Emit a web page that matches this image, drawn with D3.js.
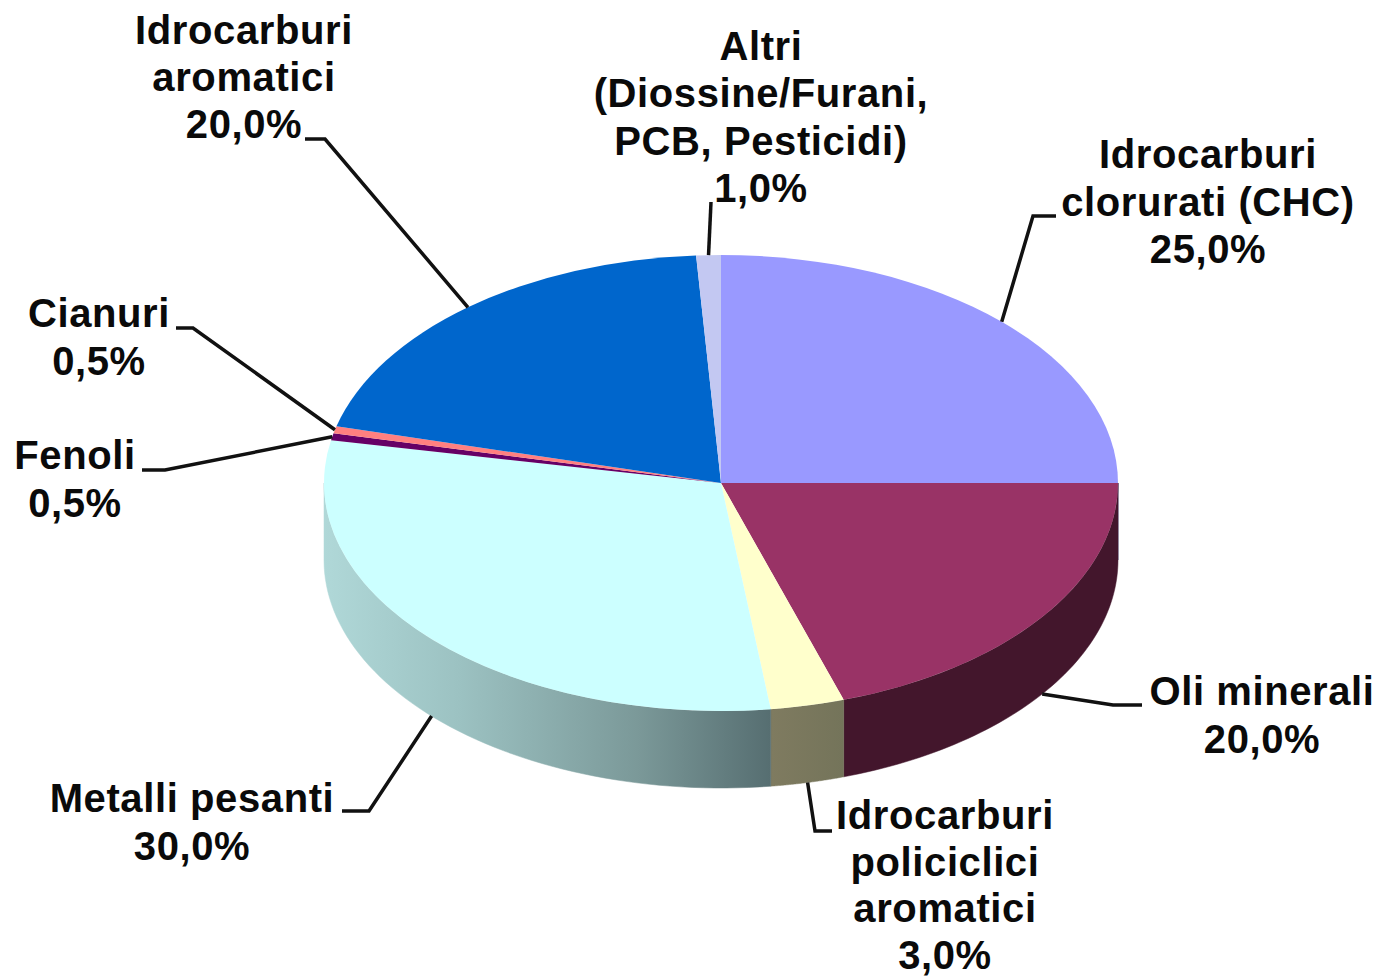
<!DOCTYPE html>
<html>
<head>
<meta charset="utf-8">
<script src="https://cdn.jsdelivr.net/npm/d3@7"></script>
<style>
	html, body { margin: 0; background: #fff; }
	svg { display: block; }
	text { font-family: "Liberation Sans", Arial, sans-serif; font-weight: bold; font-size: 40px; letter-spacing: 0.6px; fill: #0a0a0a; text-anchor: middle; }
</style>
</head>
<body>
<div id="chart-area"></div>
<script>
// chart data
const categories = [
	"Idrocarburi clorurati (CHC)",
	"Oli minerali",
	"Idrocarburi policiclici aromatici",
	"Metalli pesanti",
	"Fenoli",
	"Cianuri",
	"Idrocarburi aromatici",
	"Altri (Diossine/Furani, PCB, Pesticidi)"
];
const values = [25, 20, 3, 30, 0.5, 0.5, 20, 1];
const valueLabels = ["25,0%", "20,0%", "3,0%", "30,0%", "0,5%", "0,5%", "20,0%", "1,0%"];

// how each label is broken into lines
const labelLines = [
	["Idrocarburi", "clorurati (CHC)"],
	["Oli minerali"],
	["Idrocarburi", "policiclici", "aromatici"],
	["Metalli pesanti"],
	["Fenoli"],
	["Cianuri"],
	["Idrocarburi", "aromatici"],
	["Altri", "(Diossine/Furani,", "PCB, Pesticidi)"]
];

// colors
const topColors = ["#9999ff", "#993366", "#ffffcc", "#ccffff", "#660066", "#ff8080", "#0066cc", "#c3c8f2"];
const sideColors = ["#4d4d80", "#43162c", "url(#side-ipa)", "url(#side-metalli)", "#330033", "#804040", "#003366", "#60607f"];

// label placement: center x, first baseline, line spacing, and the leader's bend + end
const labelLayout = [
	{x: 1208, y: 168, dy: 47.5, line: [[1033, 216], [1056, 216]]},
	{x: 1262, y: 705, dy: 48, line: [[1113, 705], [1142, 705]]},
	{x: 945, y: 829, dy: 46.7, line: [[815, 831], [832, 831]]},
	{x: 192, y: 812, dy: 48, line: [[369, 811], [342, 811]]},
	{x: 75, y: 469, dy: 48, line: [[165, 470], [142, 470]]},
	{x: 99, y: 327, dy: 48, line: [[193, 328], [176, 328]]},
	{x: 244, y: 44, dy: 47, line: [[325, 139], [305, 139]]},
	{x: 761, y: 60, dy: 47.3, line: [[711, 202]]}
];

const width = 1381;
const height = 976;
const cx = 721;
const cy = 483;
const rx = 397;
const ry = 228;
const depth = 77;

let svg = d3.select("#chart-area").append("svg")
	.attr("width", width)
	.attr("height", height);

// gradients for the shaded side faces
let defs = svg.append("defs");
defs.append("linearGradient")
	.attr("id", "side-metalli")
	.attr("gradientUnits", "userSpaceOnUse")
	.attr("x1", cx - rx).attr("x2", 771).attr("y1", 0).attr("y2", 0)
	.selectAll("stop")
	.data([[0, "#b0d8d8"], [0.3, "#9cc2c2"], [0.7, "#7b9999"], [1, "#566e71"]])
	.join("stop")
	.attr("offset", d => d[0])
	.attr("stop-color", d => d[1]);
defs.append("linearGradient")
	.attr("id", "side-ipa")
	.attr("gradientUnits", "userSpaceOnUse")
	.attr("x1", 771).attr("x2", 844).attr("y1", 0).attr("y2", 0)
	.selectAll("stop")
	.data([[0, "#7f7b60"], [1, "#74745a"]])
	.join("stop")
	.attr("offset", d => d[0])
	.attr("stop-color", d => d[1]);

// pie layout, clockwise from 12 o'clock in the given order
let pie = d3.pie().sort(null).value(d => d);
let slices = pie(values);

// point on the top ellipse for a pie angle
const px = a => cx + rx * Math.sin(a);
const py = a => cy - ry * Math.cos(a);

// side walls, only the front half of the pie is visible
let sideLine = d3.line().x(d => d[0]).y(d => d[1]);
const sidePath = d => {
	let a0 = Math.max(d.startAngle, Math.PI / 2);
	let a1 = Math.min(d.endAngle, Math.PI * 1.5);
	if (a1 <= a0) return null;
	let angles = d3.range(0, 61).map(i => a0 + (a1 - a0) * i / 60);
	let upper = angles.map(a => [px(a), py(a)]);
	let lower = angles.slice().reverse().map(a => [px(a), py(a) + depth]);
	return sideLine(upper.concat(lower)) + "Z";
};

svg.append("g").selectAll("path")
	.data(slices)
	.join("path")
	.attr("d", sidePath)
	.attr("fill", (d, i) => sideColors[i])
	.attr("stroke", (d, i) => sideColors[i])
	.attr("stroke-width", 0.5);

// top face: a circular arc squashed into an ellipse
let arc = d3.arc().innerRadius(0).outerRadius(rx);
svg.append("g")
	.attr("transform", `translate(${cx},${cy}) scale(1,${ry / rx})`)
	.selectAll("path")
	.data(slices)
	.join("path")
	.attr("d", arc)
	.attr("fill", (d, i) => topColors[i]);

// leader lines start at the middle of each slice's outer edge
const anchor = d => {
	let mid = (d.startAngle + d.endAngle) / 2;
	let front = mid > Math.PI / 2 && mid < Math.PI * 1.5;
	return [px(mid), py(mid) + (front ? depth : 0)];
};

svg.append("g").selectAll("path")
	.data(slices)
	.join("path")
	.attr("d", (d, i) => sideLine([anchor(d)].concat(labelLayout[i].line)))
	.attr("fill", "none")
	.attr("stroke", "#111")
	.attr("stroke-width", 3.5);

// labels
let labels = svg.append("g").selectAll("text")
	.data(categories)
	.join("text")
	.attr("y", (d, i) => labelLayout[i].y);

labels.selectAll("tspan")
	.data((d, i) => labelLines[i].concat(valueLabels[i]).map(t => ({t: t, x: labelLayout[i].x, dy: labelLayout[i].dy})))
	.join("tspan")
	.attr("x", d => d.x)
	.attr("dy", (d, i) => i === 0 ? 0 : d.dy)
	.text(d => d.t);
</script>
</body>
</html>
